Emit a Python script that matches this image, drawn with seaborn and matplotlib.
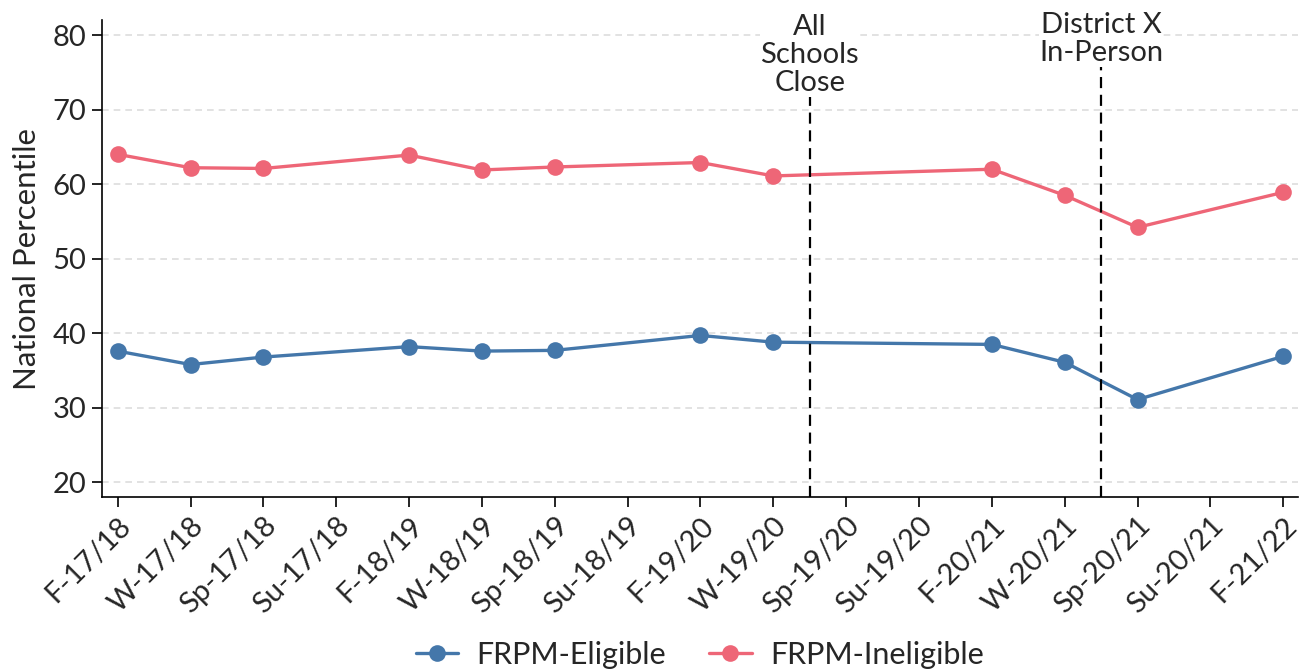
import pandas as pd
import matplotlib.pyplot as plt
import seaborn as sns

# Term labels on the x axis
terms = ['F-17/18', 'W-17/18', 'Sp-17/18', 'Su-17/18', 'F-18/19', 'W-18/19',
         'Sp-18/19', 'Su-18/19', 'F-19/20', 'W-19/20', 'Sp-19/20', 'Su-19/20',
         'F-20/21', 'W-20/21', 'Sp-20/21', 'Su-20/21', 'F-21/22']

# Terms that actually have a test score
observed_terms = ['F-17/18', 'W-17/18', 'Sp-17/18', 'F-18/19', 'W-18/19', 'Sp-18/19',
                  'F-19/20', 'W-19/20', 'F-20/21', 'W-20/21', 'Sp-20/21', 'F-21/22']
eligible = [37.6, 35.8, 36.8, 38.2, 37.6, 37.7, 39.7, 38.8, 38.5, 36.1, 31.1, 36.9]
ineligible = [64.0, 62.2, 62.1, 63.9, 61.9, 62.3, 62.9, 61.1, 62.0, 58.5, 54.2, 58.9]

# Events marked with dashed lines (between two terms)
event_labels = ['All\nSchools\nClose', 'District X\nIn-Person']
event_after = ['W-19/20', 'W-20/21']

df = pd.DataFrame({
    'term': observed_terms * 2,
    'pctl': eligible + ineligible,
    'group': ['FRPM-Eligible'] * len(eligible) + ['FRPM-Ineligible'] * len(ineligible),
})
df['pos'] = df['term'].map({t: i for i, t in enumerate(terms)})

sns.set_style('white')
plt.rcParams['font.family'] = ['Lato', 'DejaVu Sans']

fig = plt.figure(figsize=(13.03, 6.71), dpi=100)
ax = fig.add_axes([0.078, 0.259, 0.918, 0.711])

ax.yaxis.grid(True, linestyle=(0, (4, 3)), color='#dddddd', linewidth=1.2)
ax.set_axisbelow(True)

sns.lineplot(data=df, x='pos', y='pctl', hue='group',
             palette=['#4477AA', '#EE6677'], marker='o', markersize=12,
             markeredgewidth=0, linewidth=2.4, ax=ax, zorder=3)

# dashed event lines, label sits just above each line
for lab, after in zip(event_labels, event_after):
    xpos = terms.index(after) + 0.5
    n_lines = lab.count('\n') + 1
    line_top = 83.7 - 4.0 * n_lines
    ax.plot([xpos, xpos], [18, line_top], color='black', linestyle=(0, (5, 3)),
            linewidth=1.6, zorder=4, clip_on=False)
    ax.text(xpos, line_top + 0.1, lab, ha='center', va='bottom', fontsize=21,
            linespacing=1.1, zorder=5, clip_on=False,
            bbox=dict(facecolor='white', edgecolor='none', pad=0))

ax.set_xlim(-0.22, 16.2)
ax.set_ylim(18, 82)
ax.set_yticks([20, 30, 40, 50, 60, 70, 80])
ax.set_xticks(range(len(terms)))
ax.set_xticklabels(terms, rotation=45, ha='right', rotation_mode='anchor')
ax.tick_params(axis='both', labelsize=21, length=7, width=1.2, color='black',
               direction='out', bottom=True, left=True, pad=4)
ax.set_xlabel('')
ax.set_ylabel('National Percentile', fontsize=22.5, labelpad=8)

sns.despine(ax=ax)
for sp in ['left', 'bottom']:
    ax.spines[sp].set_color('black')
    ax.spines[sp].set_linewidth(1.2)

ax.legend(loc='center', bbox_to_anchor=(0.5, -0.33), ncol=2, frameon=False,
          fontsize=22, handlelength=1.4, columnspacing=1.4, handletextpad=0.6)

fig.savefig('out.png', dpi=100)
